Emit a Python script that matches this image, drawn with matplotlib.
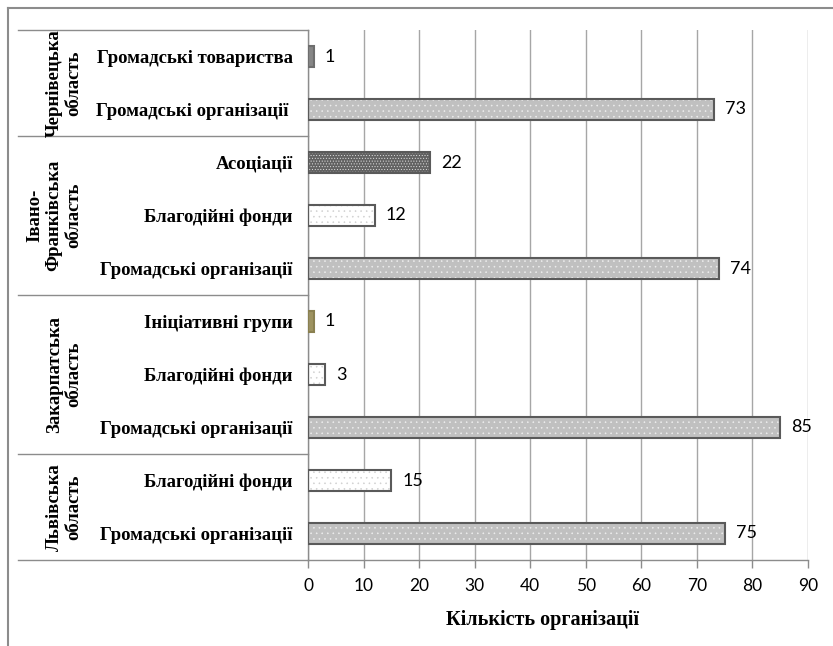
import matplotlib.pyplot as plt
from matplotlib.lines import Line2D
import matplotlib.transforms as mtransforms

# data, bottom to top as drawn
regions = ["Львівська\nобласть", "Закарпатська\nобласть",
           "Івано-\nФранківська\nобласть", "Чернівецька\nобласть"]
region_sizes = [2, 3, 3, 2]
categories = ["Громадські організації", "Благодійні фонди",
              "Громадські організації", "Благодійні фонди", "Ініціативні групи",
              "Громадські організації", "Благодійні фонди", "Асоціації",
              "Громадські організації ", "Громадські товариства"]
values = [75, 15, 85, 3, 1, 74, 12, 22, 73, 1]
xticks = [0, 10, 20, 30, 40, 50, 60, 70, 80, 90]
xlabel = "Кількість організації"

# fill, hatch colour, hatch, edge per kind of organisation
styles = {
    "Громадські організації": ("#c0c0c0", "#eeeeee", "...", "#5a5a5a"),
    "Благодійні фонди": ("white", "#d0d0d0", "...", "#5a5a5a"),
    "Асоціації": ("#626262", "#e0e0e0", "......", "#5a5a5a"),
    "Громадські товариства": ("#868686", None, "", "#6e6e6e"),
    "Ініціативні групи": ("#9e9360", None, "", "#8a8050"),
}

serif = "Liberation Serif"
sans = "Lato"
plt.rcParams["hatch.linewidth"] = 0.4

fig = plt.figure(figsize=(8.33, 6.46), dpi=100)
ax = fig.add_axes([308 / 833, 86 / 646, 500 / 833, 530 / 646])

ypos = list(range(len(values)))
st = [styles[c.strip()] for c in categories]
h = 0.4

ax.barh(ypos, values, height=h, color=[s[0] for s in st], linewidth=0, zorder=2)
for y, v, s in zip(ypos, values, st):
    if s[1] is not None:
        ax.barh(y, v, height=h, facecolor="none", edgecolor=s[1], hatch=s[2],
                linewidth=0, zorder=3)
outline = ax.barh(ypos, values, height=h, facecolor="none",
                  edgecolor=[s[3] for s in st], linewidth=1.5, zorder=4)
ax.bar_label(outline, labels=[str(v) for v in values], padding=8,
             fontsize=13, family=sans, color="black")

ax.set_xlim(0, 90)
ax.set_ylim(-0.5, len(values) - 0.5)
ax.set_xticks(xticks)
ax.set_xticklabels([str(t) for t in xticks], fontsize=12.5, family=sans)
ax.set_yticks(ypos)
ax.set_yticklabels(categories, fontsize=13.5, family=serif, fontweight="bold")
ax.tick_params(axis="y", length=0, pad=11)
ax.tick_params(axis="x", length=6, color="#8c8c8c", pad=7, width=1)

ax.grid(axis="x", color="#a6a6a6", linewidth=1, zorder=0)
ax.set_axisbelow(True)
for side in ["top", "right"]:
    ax.spines[side].set_visible(False)
for side in ["left", "bottom"]:
    ax.spines[side].set_color("#8c8c8c")
    ax.spines[side].set_linewidth(1)

ax.set_xlabel(xlabel, fontsize=14.5, family=serif, fontweight="bold")
ax.xaxis.set_label_coords((543 - 308) / 500, -0.095)

# group table on the left
trans = mtransforms.blended_transform_factory(ax.transAxes, ax.transData)
x_left = (18 - 308) / 500
bounds = [-0.5]
for n in region_sizes:
    bounds.append(bounds[-1] + n)
for b in bounds:
    ax.add_line(Line2D([x_left, 0], [b, b], transform=trans, color="#8c8c8c",
                       linewidth=1, clip_on=False))
label_x = [64, 64, 54, 64]
for i, name in enumerate(regions):
    yc = (bounds[i] + bounds[i + 1]) / 2
    ax.text((label_x[i] - 308) / 500, yc, name, transform=trans, rotation=90,
            ha="center", va="center", multialignment="center",
            fontsize=13.5, family=serif, fontweight="bold", linespacing=1.2)

# outer frame (only top and left are inside the picture)
fig.add_artist(Line2D([8 / 833, 1], [1 - 8 / 646, 1 - 8 / 646],
                      transform=fig.transFigure, color="#8c8c8c", linewidth=1.5))
fig.add_artist(Line2D([8 / 833, 8 / 833], [0, 1 - 8 / 646],
                      transform=fig.transFigure, color="#8c8c8c", linewidth=1.5))

plt.savefig("out.png", dpi=100)
